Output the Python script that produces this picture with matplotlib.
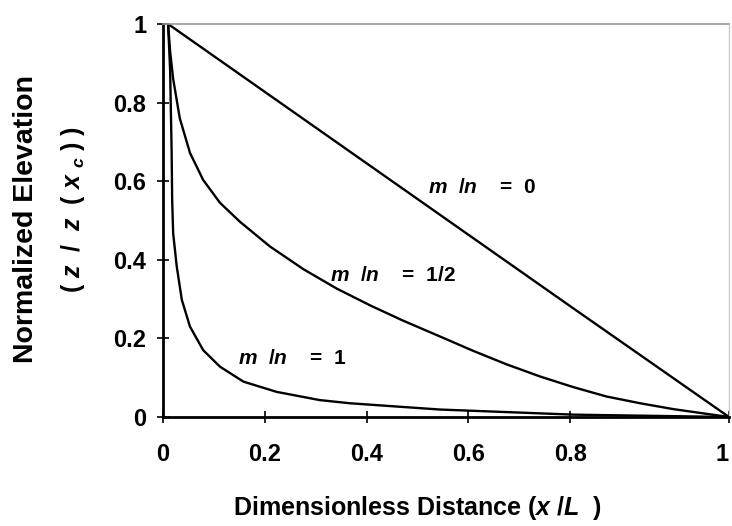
import numpy as np
import matplotlib
matplotlib.use("Agg")
import matplotlib.pyplot as plt

plt.rcParams['font.family'] = ['Liberation Sans', 'DejaVu Sans']
plt.rcParams['mathtext.fontset'] = 'custom'
plt.rcParams['mathtext.it'] = 'Liberation Sans:bold:italic'
plt.rcParams['mathtext.rm'] = 'Liberation Sans:bold'

# profiles (x/L, z/z(xc))
x_mn0 = [0.01, 0.80, 1.00]
z_mn0 = [1.00, 0.282, 0.00]

x_mn05 = [0.01, 0.014, 0.020, 0.033, 0.053, 0.079, 0.112, 0.151, 0.210,
          0.276, 0.341, 0.407, 0.472, 0.544, 0.610, 0.675, 0.741,
          0.804, 0.846, 0.888, 0.930, 0.972, 1.00]
z_mn05 = [1.00, 0.930, 0.860, 0.760, 0.672, 0.603, 0.545, 0.497, 0.434,
          0.376, 0.327, 0.284, 0.245, 0.205, 0.168, 0.134, 0.103,
          0.076, 0.052, 0.035, 0.020, 0.008, 0.00]

x_mn1 = [0.01, 0.014, 0.017, 0.018, 0.020, 0.027, 0.037, 0.053, 0.079,
         0.112, 0.158, 0.223, 0.308, 0.367, 0.466, 0.544, 0.804, 1.00]
z_mn1 = [1.00, 0.883, 0.671, 0.552, 0.467, 0.383, 0.298, 0.230, 0.170,
         0.128, 0.090, 0.064, 0.043, 0.035, 0.026, 0.019, 0.006, 0.00]

x_ticks = [0, 0.2, 0.4, 0.6, 0.8, 1.0]
x_ticklabels = ['0', '0.2', '0.4', '0.6', '0.8', '1']
y_ticks = [0, 0.2, 0.4, 0.6, 0.8, 1.0]
y_ticklabels = ['0', '0.2', '0.4', '0.6', '0.8', '1']

# the last x interval of the original axis is drawn wider than the others
stretch = 1.56
def fwd(x):
    x = np.asarray(x, dtype=float)
    return np.where(x <= 0.8, x, 0.8 + (x - 0.8) * stretch)

def inv(y):
    y = np.asarray(y, dtype=float)
    return np.where(y <= 0.8, y, 0.8 + (y - 0.8) / stretch)

fig = plt.figure(figsize=(7.32, 5.26), dpi=100)
ax = fig.add_axes([163 / 732, 1 - 417 / 526, (729 - 163) / 732, (417 - 24) / 526])
ax.set_xscale('function', functions=(fwd, inv))

for xs, zs in [(x_mn0, z_mn0), (x_mn05, z_mn05), (x_mn1, z_mn1)]:
    ax.plot(xs, zs, color='black', lw=1.7, solid_capstyle='round',
            solid_joinstyle='round')

ax.set_xlim(0, 1)
ax.set_ylim(0, 1)
ax.set_xticks(x_ticks)
ax.set_xticklabels(x_ticklabels)
ax.set_yticks(y_ticks)
ax.set_yticklabels(y_ticklabels)
ax.xaxis.set_minor_locator(matplotlib.ticker.NullLocator())
ax.tick_params(axis='both', direction='inout', length=8, width=1.2,
               labelsize=17)
ax.tick_params(axis='x', pad=15)
ax.tick_params(axis='y', pad=8)
for lab in ax.get_xticklabels() + ax.get_yticklabels():
    lab.set_fontweight('bold')
ax.get_xticklabels()[-1].set_ha('right')

ax.spines['left'].set_linewidth(2)
ax.spines['bottom'].set_linewidth(2)
ax.spines['top'].set_color('#999999')
ax.spines['right'].set_color('#cccccc')
ax.spines['top'].set_linewidth(1.2)
ax.spines['right'].set_linewidth(1)

# curve labels
ax.text(0.521, 0.583, r'$m$  /$n$    =  0', fontsize=15, fontweight='bold',
        ha='left', va='center')
ax.text(0.328, 0.361, r'$m$  /$n$    =  1/2', fontsize=15, fontweight='bold',
        ha='left', va='center')
ax.text(0.147, 0.150, r'$m$  /$n$    =  1', fontsize=15, fontweight='bold',
        ha='left', va='center')

fig.text(417 / 732, 1 - 508 / 526, r'Dimensionless Distance ($x$ /$L$  )',
         fontsize=18, fontweight='bold', ha='center', va='center')
fig.text(26 / 732, 1 - 219 / 526, 'Normalized Elevation', rotation=90,
         fontsize=20.5, fontweight='bold', ha='center', va='center')
fig.text(73 / 732, 1 - 209 / 526, r'( $z$  /  $z$  ( $x$ $_{c}$ ) )',
         rotation=90, fontsize=18, fontweight='bold', ha='center',
         va='center')

fig.savefig('out.png', dpi=100)
